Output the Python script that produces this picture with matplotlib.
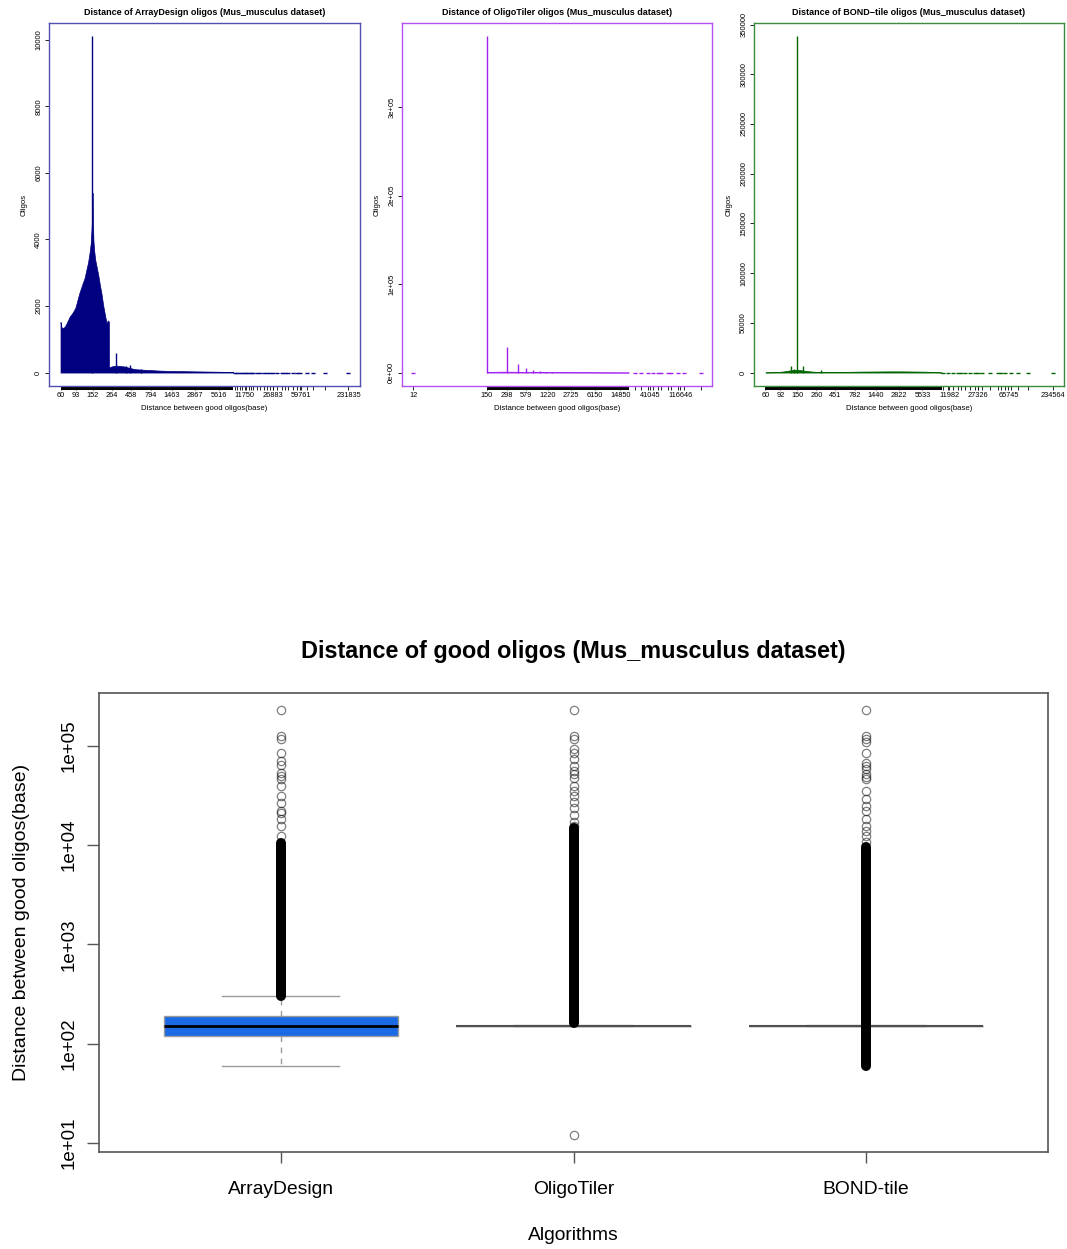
import matplotlib
matplotlib.use('Agg')
import matplotlib.pyplot as plt
import matplotlib.transforms as mtrans
from matplotlib.ticker import NullFormatter, NullLocator
import numpy as np

plt.rcParams['font.family'] = ['Liberation Sans', 'DejaVu Sans']

W, H = 1067, 1249

# ---- ArrayDesign: oligos per distance value ----
ad_x = [60, 61, 64, 68, 72, 78, 85, 92, 103, 112, 120, 126, 132, 138, 143, 146, 148, 149,
        151, 152, 154, 157, 162, 170, 178, 185, 195, 203, 212, 220, 226, 229, 231, 236, 240,
        241, 250, 265, 280, 295, 320, 350, 380, 420, 470, 520, 600, 700, 850, 1000, 1300,
        1700, 2300, 3000, 4000, 5500, 7000, 8500]
ad_y = [1520, 1380, 1330, 1380, 1500, 1680, 1800, 1950, 2390, 2650, 2850, 3090, 3300, 3600,
        3900, 4300, 4600, 5400, 5400, 4600, 4000, 3700, 3400, 3150, 2900, 2650, 2350, 2050,
        1800, 1600, 1480, 1430, 1560, 1560, 1520, 150, 170, 190, 200, 210, 200, 190, 180, 150,
        120, 100, 90, 80, 70, 60, 50, 45, 40, 35, 30, 25, 20, 12]
ad_spike_x = [150, 298, 390, 445, 600]
ad_spike_y = [10100, 600, 190, 230, 110]
ad_rare_x = [9000, 9600, 10300, 11000, 11750, 12400, 13200, 14000, 15070, 16900, 18400, 20700,
             22600, 24600, 26800, 30100, 34700, 37900, 41300, 47700, 53500, 58300, 71300,
             84700, 119700, 231835]
ad_dense = [60, 8480]
ad_xlabels = [60, 93, 152, 264, 458, 794, 1463, 2867, 5616, 11750, 26883, 59761, 231835]
ad_yticks = [0, 2000, 4000, 6000, 8000, 10000]
ad_ylabels = ['0', '2000', '4000', '6000', '8000', '10000']

# ---- OligoTiler ----
ot_x = [150, 160, 200, 250, 300, 400, 500, 700, 1000, 1500, 2000, 3000, 5000, 8000, 12000, 20000]
ot_y = [600, 700, 900, 1000, 1000, 900, 800, 700, 600, 500, 400, 350, 300, 200, 150, 100]
ot_spike_x = [150, 298, 440, 588, 737, 930, 1150, 1400]
ot_spike_y = [380000, 29000, 9400, 4900, 2600, 1500, 1000, 800]
ot_rare_x = [12, 24300, 30600, 38400, 45600, 54200, 60800, 76200, 85700, 107000, 135000, 236000]
ot_dense = [150, 20000]
ot_xlabels = [12, 150, 298, 579, 1220, 2725, 6150, 14850, 41045, 116646]
ot_yticks = [0, 100000, 200000, 300000]
ot_ylabels = ['0e+00', '1e+05', '2e+05', '3e+05']

# ---- BOND-tile ----
bd_x = [60, 70, 80, 90, 100, 110, 120, 130, 140, 150, 160, 170, 180, 200, 230, 260, 300, 350,
        400, 500, 700, 1000, 1500, 2000, 3000, 4000, 5000, 6000, 7000, 8000, 9600]
bd_y = [200, 300, 450, 700, 1100, 1600, 2100, 2500, 2700, 2800, 2600, 2300, 2000, 1500, 1000,
        700, 500, 450, 500, 600, 800, 1000, 1100, 1200, 1200, 1100, 1000, 900, 700, 400, 150]
bd_spike_x = [125, 135, 150, 175, 299]
bd_spike_y = [6400, 3500, 338000, 6400, 2700]
bd_rare_x = [10000, 11600, 13400, 15400, 17000, 18700, 21600, 24900, 27400, 30700, 38300,
             48700, 53600, 59000, 71500, 86400, 115000, 234564]
bd_dense = [60, 9660]
bd_xlabels = [60, 92, 150, 260, 451, 782, 1440, 2822, 5533, 11982, 27326, 65745, 234564]
bd_yticks = [0, 50000, 100000, 150000, 200000, 250000, 300000, 350000]
bd_ylabels = ['0', '50000', '100000', '150000', '200000', '250000', '300000', '350000']

# ---- boxplot summary ----
algorithms = ['ArrayDesign', 'OligoTiler', 'BOND-tile']
box_q1 = [120, 150, 150]
box_med = [150, 150, 150]
box_q3 = [190, 150, 150]
box_lo = [60, 150, 150]
box_hi = [298, 150, 150]
ad_out = [12300, 15500, 18100, 21200, 22000, 26700, 31100, 39200, 45800, 49500, 53600, 63400,
          70100, 83700, 116000, 124000, 229000]
ot_out = [12, 15500, 17000, 20000, 23500, 27000, 31000, 35000, 39000, 47000, 52000, 56000,
          62000, 73000, 84000, 93000, 116000, 124000, 229000]
bd_out = [10800, 12300, 13800, 15500, 18100, 22000, 24700, 28800, 34900, 45800, 48500, 51500,
          57800, 62000, 67600, 83700, 110000, 118000, 126000, 229000]
# ranges where outliers overlap into a solid column
dense_lo = [300, 160, 60]
dense_hi = [10500, 15000, 9500]


def px_rect(left, top, right, bottom):
    return [left / W, 1 - bottom / H, (right - left) / W, (bottom - top) / H]


fig = plt.figure(figsize=(W / 100, H / 100), dpi=100)


def hist_panel(rect, xs, ys, spx, spy, rare, dense, xlabels, yticks, ylabels, color, frame, title):
    ax = fig.add_axes(px_rect(*rect))
    ax.set_xscale('log')
    ax.fill_between(xs, 0, ys, color=color, lw=0.5)
    ax.vlines(spx, 0, spy, color=color, lw=1.0)
    ax.plot(rare, np.zeros(len(rare)), ls='none', marker='_', ms=2.5, mew=1.0, color=color)

    lo = np.log10(min(xs + rare))
    hi = np.log10(max(xs + rare))
    pad = 0.04 * (hi - lo)
    ax.set_xlim(10 ** (lo - pad), 10 ** (hi + pad))
    top = max(spy + ys)
    ax.set_ylim(-0.04 * top, 1.04 * top)

    # axis ticks at every distance value (rug)
    ax.set_xticks(xlabels)
    ax.set_xticklabels([str(v) for v in xlabels])
    ax.set_xticks(rare, minor=True)
    ax.xaxis.set_minor_formatter(NullFormatter())
    ax.tick_params(axis='x', which='both', length=2.9, width=0.6, pad=1.5, labelsize=5.3)
    trans = mtrans.blended_transform_factory(ax.transData, ax.transAxes)
    ax.plot(dense, [-0.0055, -0.0055], transform=trans, color='black', lw=2.9,
            solid_capstyle='butt', clip_on=False)

    ax.set_yticks(yticks)
    ax.set_yticklabels(ylabels, rotation=90, va='center')
    ax.tick_params(axis='y', length=2.9, width=0.6, pad=2, labelsize=5.5)

    for sp in ax.spines.values():
        sp.set_color(frame)
        sp.set_linewidth(1.0)

    ax.set_title(title, fontsize=6.5, fontweight='bold', pad=6)
    ax.set_xlabel('Distance between good oligos(base)', fontsize=5.6, labelpad=4.5)
    ax.set_ylabel('Oligos', fontsize=5.6)
    ax.yaxis.set_label_coords(-0.068, 0.5)
    return ax


hist_panel((49, 23, 360, 386), ad_x, ad_y, ad_spike_x, ad_spike_y, ad_rare_x, ad_dense,
           ad_xlabels, ad_yticks, ad_ylabels, '#000080', '#5050b0',
           'Distance of ArrayDesign oligos (Mus_musculus dataset)')
hist_panel((402, 23, 712, 386), ot_x, ot_y, ot_spike_x, ot_spike_y, ot_rare_x, ot_dense,
           ot_xlabels, ot_yticks, ot_ylabels, '#a020f0', '#b450f0',
           'Distance of OligoTiler oligos (Mus_musculus dataset)')
hist_panel((754, 23, 1064, 386), bd_x, bd_y, bd_spike_x, bd_spike_y, bd_rare_x, bd_dense,
           bd_xlabels, bd_yticks, bd_ylabels, '#006400', '#3c8c3c',
           'Distance of BOND\u2212tile oligos (Mus_musculus dataset)')

# ---- bottom boxplot ----
ax = fig.add_axes(px_rect(99, 693, 1048, 1152))
ax.set_yscale('log')
outs = [ad_out, ot_out, bd_out]
stats = []
for i in range(3):
    stats.append(dict(med=box_med[i], q1=box_q1[i], q3=box_q3[i],
                      whislo=box_lo[i], whishi=box_hi[i], fliers=outs[i]))
pos = [1, 2, 3]

ax.vlines(pos, dense_lo, dense_hi, color='black', lw=7.2, capstyle='round', zorder=4)

bp = ax.bxp(stats, positions=pos, widths=0.8, capwidths=0.4, patch_artist=True,
            boxprops=dict(facecolor='#1a6ae6', edgecolor='#9a9a9a', lw=1),
            whiskerprops=dict(color='#9a9a9a', lw=1, ls=(0, (4, 4))),
            capprops=dict(color='#9a9a9a', lw=1),
            medianprops=dict(color='black', lw=2),
            flierprops=dict(marker='o', ms=6, mfc='none', mec=(0, 0, 0, 0.5), mew=0.9))
for i in (1, 2):
    bp['boxes'][i].set_edgecolor('#555555')
    bp['medians'][i].set_color('#505050')
    bp['medians'][i].set_linewidth(1.5)
    bp['caps'][2 * i].set_color('#333333')
    bp['caps'][2 * i + 1].set_color('#333333')
    bp['caps'][2 * i].set_linewidth(1.5)
    bp['caps'][2 * i + 1].set_linewidth(1.5)
for f in bp['fliers']:
    f.set_zorder(5)

lo = np.log10(min(ot_out))
hi = np.log10(max(ad_out))
pad = 0.04 * (hi - lo)
ax.set_ylim(10 ** (lo - pad), 10 ** (hi + pad))
ax.set_xlim(0.378, 3.622)
ax.set_yticks([10, 100, 1000, 10000, 100000])
ax.set_yticklabels(['1e+01', '1e+02', '1e+03', '1e+04', '1e+05'], rotation=90, va='center')
ax.yaxis.set_minor_locator(NullLocator())
ax.set_xticks(pos)
ax.set_xticklabels(algorithms)
ax.tick_params(axis='y', length=8.6, width=1, color='#555555', pad=7, labelsize=13.5)
ax.tick_params(axis='x', length=8, width=1, color='#555555', pad=13, labelsize=13.9)
for sp in ax.spines.values():
    sp.set_color('#555555')
    sp.set_linewidth(1.2)

ax.set_title('Distance of good oligos (Mus_musculus dataset)', fontsize=16.8,
             fontweight='bold', pad=25)
ax.set_xlabel('Algorithms', fontsize=13.9, labelpad=21)
ax.set_ylabel('Distance between good oligos(base)', fontsize=14, labelpad=22)

fig.savefig('out.png', dpi=100)
